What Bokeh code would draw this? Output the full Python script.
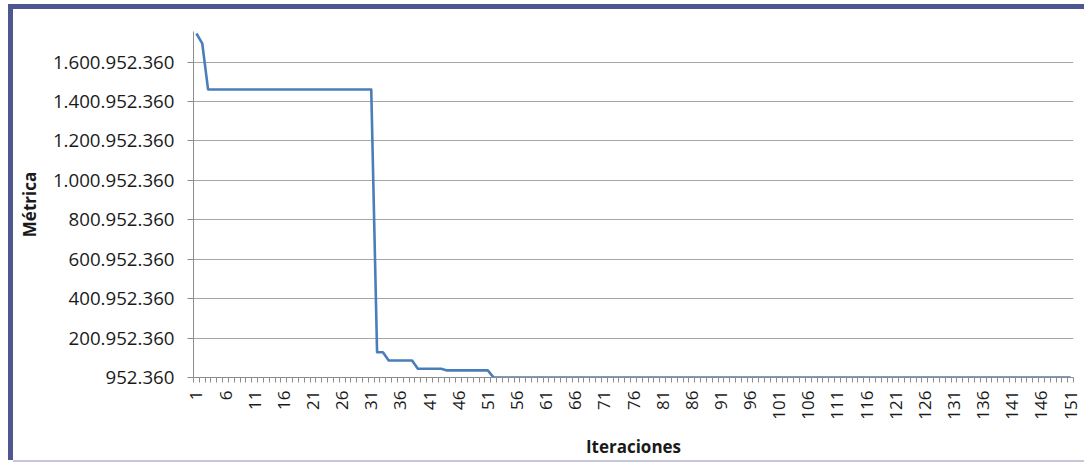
import math

from bokeh.plotting import figure
from bokeh.models import FixedTicker, Range1d
from bokeh.embed import file_html
from bokeh.resources import INLINE

# Iteration number (category axis) and the metric reached at each iteration
iterations = list(range(1, 152))
metric = [
    1746000000, 1696000000, 1462000000, 1462000000, 1462000000,
    1462000000, 1462000000, 1462000000, 1462000000, 1462000000,
    1462000000, 1462000000, 1462000000, 1462000000, 1462000000,
    1462000000, 1462000000, 1462000000, 1462000000, 1462000000,
    1462000000, 1462000000, 1462000000, 1462000000, 1462000000,
    1462000000, 1462000000, 1462000000, 1462000000, 1462000000,
    1462000000, 129000000, 129000000, 87000000, 87000000,
    87000000, 87000000, 87000000, 45000000, 45000000,
    45000000, 45000000, 45000000, 37000000, 37000000,
    37000000, 37000000, 37000000, 37000000, 37000000,
    37000000, 952360, 952360, 952360, 952360,
    952360, 952360, 952360, 952360, 952360,
    952360, 952360, 952360, 952360, 952360,
    952360, 952360, 952360, 952360, 952360,
    952360, 952360, 952360, 952360, 952360,
    952360, 952360, 952360, 952360, 952360,
    952360, 952360, 952360, 952360, 952360,
    952360, 952360, 952360, 952360, 952360,
    952360, 952360, 952360, 952360, 952360,
    952360, 952360, 952360, 952360, 952360,
    952360, 952360, 952360, 952360, 952360,
    952360, 952360, 952360, 952360, 952360,
    952360, 952360, 952360, 952360, 952360,
    952360, 952360, 952360, 952360, 952360,
    952360, 952360, 952360, 952360, 952360,
    952360, 952360, 952360, 952360, 952360,
    952360, 952360, 952360, 952360, 952360,
    952360, 952360, 952360, 952360, 952360,
    952360, 952360, 952360, 952360, 952360,
    952360, 952360, 952360, 952360, 952360,
    952360, 952360, 952360, 952360, 952360,
    952360,
]

# Value axis ticks and their labels (dot as thousands separator)
y_tick_values = [
    952360, 200952360, 400952360, 600952360, 800952360,
    1000952360, 1200952360, 1400952360, 1600952360,
]
y_tick_labels = [
    "952.360", "200.952.360", "400.952.360", "600.952.360", "800.952.360",
    "1.000.952.360", "1.200.952.360", "1.400.952.360", "1.600.952.360",
]
# Category labels shown every fifth iteration
x_tick_labels = [1, 6, 11, 16, 21, 26, 31, 36, 41, 46, 51, 56, 61, 66, 71, 76,
                 81, 86, 91, 96, 101, 106, 111, 116, 121, 126, 131, 136, 141,
                 146, 151]

FONT = "Open Sans"
AXIS_GREY = "#8c8c8c"
GRID_GREY = "#a6a6a6"
LINE_BLUE = "#4a7ebb"
FRAME_BLUE = "#50568f"
FRAME_LILAC = "#c6c6df"

n = len(iterations)
p = figure(
    width=1071, height=451,
    output_backend="svg", toolbar_location=None,
    x_range=Range1d(0.5, n + 0.5),
    y_range=Range1d(y_tick_values[0], 1756000000),
    min_border_left=180, min_border_right=11,
    min_border_top=22, min_border_bottom=81,
)
p.margin = (9, 0, 0, 13)
# chart frame: thick bar on the left and top, thin lilac rule at the bottom
p.styles = {
    "box-shadow": (
        f"0 2px 0 0 {FRAME_LILAC}, -5px -5px 0 0 {FRAME_BLUE}, "
        f"0 -5px 0 0 {FRAME_BLUE}, -5px 0 0 0 {FRAME_BLUE}"
    ),
}
p.outline_line_color = None
p.background_fill_color = "white"
p.border_fill_color = "white"

p.line(iterations, metric, line_color=LINE_BLUE, line_width=2.6,
       line_join="round")

# horizontal gridlines only
p.xgrid.visible = False
p.ygrid.grid_line_color = GRID_GREY
p.ygrid.grid_line_width = 1.2

# value axis
ya = p.yaxis[0]
ya.ticker = FixedTicker(ticks=y_tick_values)
ya.major_label_overrides = dict(zip(y_tick_values, y_tick_labels))
ya.axis_line_color = AXIS_GREY
ya.major_tick_line_color = AXIS_GREY
ya.major_tick_out = 6
ya.major_tick_in = 0
ya.minor_tick_line_color = None
ya.major_label_standoff = 13
ya.major_label_text_font = FONT
ya.major_label_text_font_size = "18.7px"
ya.major_label_text_color = "#1a1a1a"
ya.axis_label = "Métrica"
ya.axis_label_text_font = FONT
ya.axis_label_text_font_style = "bold"
ya.axis_label_text_font_size = "17px"
ya.axis_label_text_color = "#1a1a1a"
ya.axis_label_standoff = 9

# category axis: a tick mark between every pair of iterations
xa = p.xaxis[0]
xa.ticker = FixedTicker(ticks=x_tick_labels,
                        minor_ticks=[i + 0.5 for i in range(0, n + 1)])
xa.axis_line_color = AXIS_GREY
xa.major_tick_line_color = None
xa.major_tick_out = 5
xa.major_tick_in = 0
xa.minor_tick_line_color = AXIS_GREY
xa.minor_tick_out = 5
xa.minor_tick_in = 0
xa.major_label_orientation = math.pi / 2
xa.major_label_standoff = 8
xa.major_label_text_font = FONT
xa.major_label_text_font_size = "17px"
xa.major_label_text_color = "#1a1a1a"
xa.axis_label = "Iteraciones"
xa.axis_label_text_font = FONT
xa.axis_label_text_font_style = "bold"
xa.axis_label_text_font_size = "17px"
xa.axis_label_text_color = "#1a1a1a"
xa.axis_label_standoff = 12

open("out.html", "w").write(file_html(p, INLINE))
